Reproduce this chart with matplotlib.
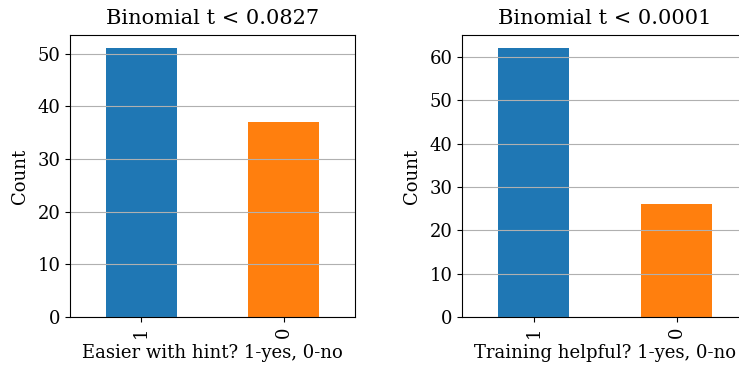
import matplotlib
matplotlib.use("Agg")
import matplotlib.pyplot as plt

plt.rcParams["font.family"] = "DejaVu Serif"

# counts per answer (1 = yes, 0 = no)
labels = ["1", "0"]
hint_counts = [51, 37]
training_counts = [62, 26]
titles = ["Binomial t < 0.0827", "Binomial t < 0.0001"]
xlabels = ["Easier with hint? 1-yes, 0-no", "Training helpful? 1-yes, 0-no"]
colors = ["#1f77b4", "#ff7f0e"]

fig = plt.figure(figsize=(7.39, 3.67), dpi=100)
ax1 = fig.add_axes([70 / 739, 1 - 317 / 367, 285 / 739, 282 / 367])
ax2 = fig.add_axes([462 / 739, 1 - 317 / 367, 286 / 739, 282 / 367])

for ax, counts, title, xl in zip([ax1, ax2], [hint_counts, training_counts], titles, xlabels):
    ax.bar(range(len(labels)), counts, width=0.5, color=colors)
    ax.set_xlim(-0.5, 1.5)
    ax.set_xticks(range(len(labels)))
    ax.set_xticklabels(labels, rotation=90)
    ax.set_title(title, fontsize=15, pad=8)
    ax.set_xlabel(xl, fontsize=13, labelpad=4)
    ax.set_ylabel("Count", fontsize=13, labelpad=6)
    ax.tick_params(labelsize=13)
    ax.grid(axis="y", color="#b0b0b0")

fig.savefig("out.png", dpi=100)
